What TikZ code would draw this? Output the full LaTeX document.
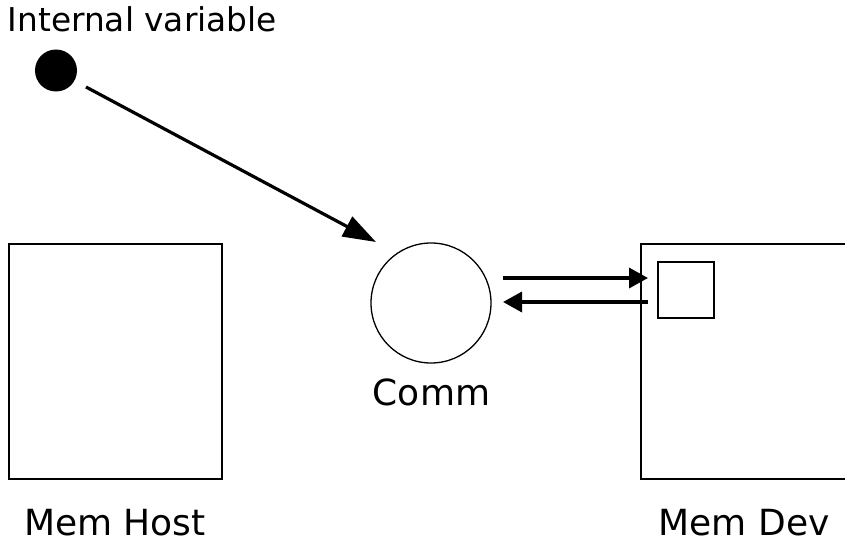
\documentclass[tikz,border=0pt]{standalone}
\usepackage{fontspec}
\setmainfont{DejaVu Sans}
\usetikzlibrary{arrows.meta}
\tikzset{
  label text/.style={inner sep=0pt, font=\fontsize{36}{42}\selectfont},
  title text/.style={inner sep=0pt, font=\fontsize{32.8}{38}\selectfont},
  memory/.style={draw, line width=2pt},
  flow/.style={line width=3.5pt, -{Triangle[length=19pt, width=20pt]}},
  push/.style={line width=3.2pt, -{Triangle[length=33pt, width=22pt]}},
}
\begin{document}
\begin{tikzpicture}[x=1pt, y=-1pt]
  \useasboundingbox (0,0) rectangle (845,543);
  \clip (0,0) rectangle (845,543);

  % host and device memories
  \draw[memory] (9,244) rectangle (222,479);
  \draw[memory] (641,244) rectangle (854,479);
  \node[draw, line width=1.6pt, minimum width=56pt, minimum height=56pt, inner sep=0pt]
    (buf) at (686,290) {};

  % communicator
  \node[draw, circle, line width=1.3pt, minimum size=120pt, inner sep=0pt]
    (comm) at (431,303) {};

  % internal variable
  \node[fill=black, circle, minimum size=42pt, inner sep=0pt] (var) at (56,70.5) {};

  % connectors
  \coordinate (varout) at (86,87);
  \coordinate (commin) at (376,242);
  \draw[push] (varout) -- (commin);

  \coordinate (sendA) at (503,278);
  \coordinate (sendB) at (648,278);
  \coordinate (recvA) at (648,302);
  \coordinate (recvB) at (503,302);
  \draw[flow] (sendA) -- (sendB);
  \draw[flow] (recvA) -- (recvB);

  % labels
  \node[title text, anchor=base west] (lvar) at (7.5,32) {Internal variable};
  \node[label text, anchor=base] (lcomm) at (431.5,405) {Comm};
  \node[label text, anchor=base west] (lhost) at (24,535) {Mem Host};
  \node[label text, anchor=base west] (ldev) at (658.5,535) {Mem Dev};
\end{tikzpicture}
\end{document}
